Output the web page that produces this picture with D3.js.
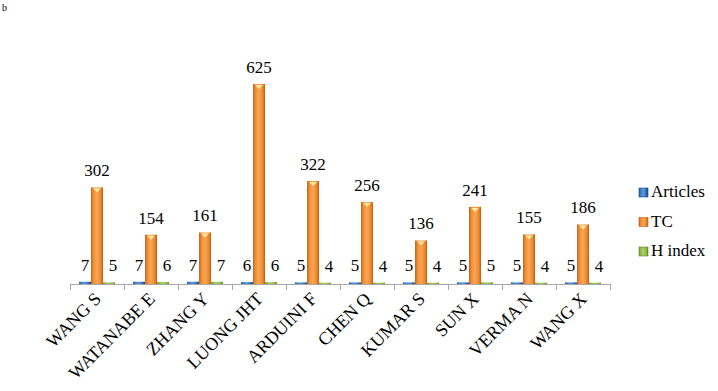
<!DOCTYPE html>
<html>
<head>
<meta charset="utf-8">
<script src="https://cdn.jsdelivr.net/npm/d3@7"></script>
<style>
  body { margin: 0; background: #fff; }
  svg text { font-family: "Liberation Serif", "DejaVu Serif", serif; }
</style>
</head>
<body>
<script>
// authors and their numbers
var authors = ["WANG S", "WATANABE E", "ZHANG Y", "LUONG JHT", "ARDUINI F",
               "CHEN Q", "KUMAR S", "SUN X", "VERMA N", "WANG X"]
var articles = [7, 7, 7, 6, 5, 5, 5, 5, 5, 5]
var tc       = [302, 154, 161, 625, 322, 256, 136, 241, 155, 186]
var hindex   = [5, 6, 7, 6, 4, 4, 4, 5, 4, 4]
var seriesNames = ["Articles", "TC", "H index"]

var width = 718, height = 391

var svg = d3.select("body").append("svg")
    .attr("width", width)
    .attr("height", height)

var defs = svg.append("defs")
var cols = {
  "Articles": ["#1f5c9e", "#3f86cf", "#5a9ae0", "#2a6db5", "#184c86"],
  "TC":       ["#c8601a", "#f2913a", "#f9a654", "#ef8a2e", "#c25c16"],
  "H index":  ["#6f9a30", "#94c24f", "#a8d160", "#8ab844", "#628a2a"]
}
seriesNames.forEach(function(s, i) {
  var g = defs.append("linearGradient").attr("id", "grad" + i)
    .attr("x1", "0").attr("x2", "1").attr("y1", "0").attr("y2", "0")
  var c = cols[s]
  ;[0, 0.22, 0.5, 0.8, 1].forEach(function(o, j) {
    g.append("stop").attr("offset", o).attr("stop-color", c[j])
  })
})

var x0 = d3.scaleBand().domain(authors).range([70, 610])
var x1 = d3.scaleBand().domain(seriesNames).range([9, 45])
var y = d3.scaleLinear().domain([0, 700]).range([284, 60])
var labelShift = { "Articles": 0, "TC": 0, "H index": 4 }

var rows = authors.map(function(a, i) {
  return { name: a, vals: [articles[i], tc[i], hindex[i]] }
})

// axis
var axis = svg.append("g")
axis.append("line")
    .attr("x1", 70).attr("x2", 610)
    .attr("y1", y(0) + 0.5).attr("y2", y(0) + 0.5)
    .attr("stroke", "#a6a6a6")
axis.selectAll("line.tick")
  .data(d3.range(authors.length + 1))
  .enter().append("line")
    .attr("class", "tick")
    .attr("x1", function(d) { return 70 + d * x0.bandwidth() + 0.5 })
    .attr("x2", function(d) { return 70 + d * x0.bandwidth() + 0.5 })
    .attr("y1", y(0)).attr("y2", y(0) + 6)
    .attr("stroke", "#a6a6a6")

var groups = svg.selectAll("g.grp")
  .data(rows)
  .enter().append("g")
    .attr("class", "grp")
    .attr("transform", function(d) { return "translate(" + x0(d.name) + ",0)" })

groups.selectAll("rect")
  .data(function(d) { return d.vals.map(function(v, i) { return { s: seriesNames[i], i: i, v: v } }) })
  .enter().append("rect")
    .attr("x", function(d) { return x1(d.s) })
    .attr("width", x1.bandwidth())
    .attr("y", function(d) { return y(d.v) })
    .attr("height", function(d) { return y(0) - y(d.v) })
    .attr("fill", function(d) { return "url(#grad" + d.i + ")" })

// little highlight on the top of the tall bars
groups.selectAll("path.cap")
  .data(function(d) { return [{ s: "TC", v: d.vals[1] }] })
  .enter().append("path")
    .attr("class", "cap")
    .attr("d", function(d) {
      var cx = x1(d.s) + x1.bandwidth() / 2, t = y(d.v) + 1
      return "M" + (cx - 4) + "," + t + "L" + (cx + 4) + "," + t + "L" + cx + "," + (t + 4) + "Z"
    })
    .attr("fill", "#ffe9a0")

groups.selectAll("text.val")
  .data(function(d) { return d.vals.map(function(v, i) { return { s: seriesNames[i], v: v } }) })
  .enter().append("text")
    .attr("class", "val")
    .attr("x", function(d) { return x1(d.s) + x1.bandwidth() / 2 + labelShift[d.s] })
    .attr("y", function(d) { return y(d.v) - 11 })
    .attr("text-anchor", "middle")
    .attr("font-size", 17)
    .text(function(d) { return d.v })

// category labels
svg.selectAll("text.cat")
  .data(authors)
  .enter().append("text")
    .attr("class", "cat")
    .attr("text-anchor", "end")
    .attr("transform", function(d) {
      return "translate(" + (x0(d) + x0.bandwidth() / 2 + 5) + "," + 300 + ") rotate(-45)"
    })
    .attr("font-size", 18)
    .text(function(d) { return d })

// legend
var legend = svg.selectAll("g.leg")
  .data(seriesNames)
  .enter().append("g")
    .attr("class", "leg")
    .attr("transform", function(d, i) { return "translate(639," + (188 + i * 29.5) + ")" })
legend.append("rect")
    .attr("width", 9).attr("height", 9)
    .attr("fill", function(d, i) { return "url(#grad" + i + ")" })
    .attr("stroke", function(d) { return cols[d][4] })
    .attr("stroke-width", 0.6)
legend.append("text")
    .attr("x", 12).attr("y", 9)
    .attr("font-size", 17)
    .text(function(d) { return d })

svg.append("text")
    .attr("x", 2).attr("y", 11)
    .attr("font-size", 10)
    .text("b")
</script>
</body>
</html>
